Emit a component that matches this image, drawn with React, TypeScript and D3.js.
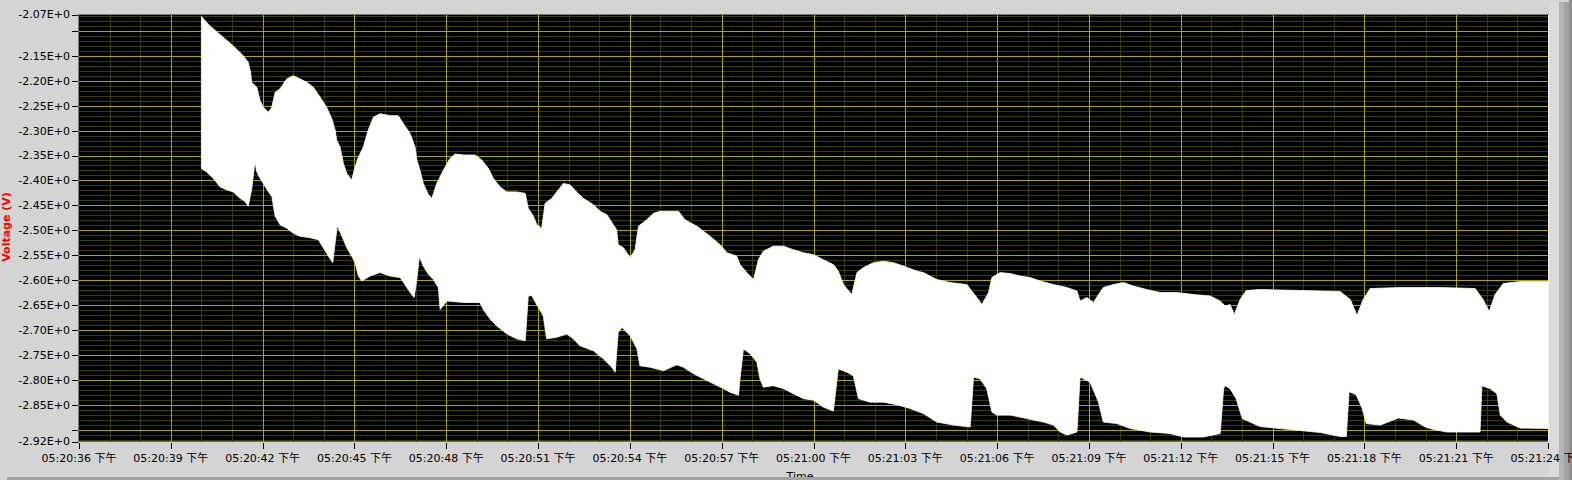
import React from "react";
import * as d3 from "d3";

// time is seconds after 05:20:00 PM, voltage in V
const upperT = [40.0, 40.28, 40.72, 41.04, 41.37, 41.53, 41.61, 41.64, 41.81, 41.92, 42.02, 42.19, 42.3, 42.41, 42.57, 42.79, 43.0, 43.22, 43.44, 43.66, 43.88, 44.09, 44.26, 44.37, 44.42, 44.53, 44.64, 44.75, 44.91, 45.02, 45.13, 45.29, 45.45, 45.62, 45.84, 46.16, 46.43, 46.6, 46.82, 46.98, 47.04, 47.14, 47.25, 47.42, 47.53, 47.69, 47.91, 48.12, 48.29, 48.56, 48.94, 49.16, 49.38, 49.54, 49.76, 49.98, 50.3, 50.58, 50.68, 50.85, 50.96, 51.12, 51.23, 51.45, 51.66, 51.83, 52.05, 52.26, 52.48, 52.81, 53.03, 53.25, 53.46, 53.57, 53.62, 53.79, 54.01, 54.17, 54.28, 54.55, 54.77, 54.99, 55.31, 55.59, 55.8, 56.19, 56.62, 56.95, 57.17, 57.49, 57.6, 57.82, 58.04, 58.2, 58.36, 58.69, 59.02, 59.34, 59.67, 60.0, 60.32, 60.65, 60.81, 60.98, 61.25, 61.42, 61.63, 61.96, 62.28, 62.61, 62.94, 63.38, 63.59, 64.03, 64.46, 65.01, 65.17, 65.34, 65.5, 65.72, 65.83, 66.1, 66.43, 66.75, 67.08, 67.41, 67.84, 68.28, 68.61, 68.71, 68.93, 69.15, 69.31, 69.47, 69.8, 70.13, 70.45, 70.89, 71.33, 71.87, 72.42, 72.96, 73.29, 73.45, 73.61, 73.75, 73.94, 74.14, 74.59, 75.9, 77.21, 77.54, 77.76, 77.96, 78.19, 79.17, 80.48, 81.62, 81.88, 82.08, 82.27, 82.54, 83.09, 84.0];
const upperV = [-2.071, -2.09, -2.113, -2.13, -2.15, -2.163, -2.183, -2.203, -2.213, -2.24, -2.253, -2.263, -2.253, -2.223, -2.216, -2.196, -2.19, -2.196, -2.203, -2.213, -2.233, -2.253, -2.276, -2.299, -2.319, -2.333, -2.366, -2.386, -2.399, -2.373, -2.353, -2.333, -2.299, -2.273, -2.266, -2.27, -2.27, -2.286, -2.306, -2.333, -2.359, -2.379, -2.406, -2.429, -2.436, -2.406, -2.379, -2.356, -2.347, -2.349, -2.349, -2.359, -2.376, -2.396, -2.413, -2.423, -2.423, -2.426, -2.456, -2.472, -2.489, -2.496, -2.446, -2.436, -2.419, -2.406, -2.409, -2.423, -2.436, -2.449, -2.462, -2.469, -2.489, -2.499, -2.529, -2.535, -2.555, -2.539, -2.492, -2.479, -2.466, -2.462, -2.462, -2.462, -2.479, -2.492, -2.512, -2.529, -2.545, -2.552, -2.569, -2.585, -2.599, -2.559, -2.542, -2.532, -2.532, -2.539, -2.545, -2.549, -2.559, -2.569, -2.582, -2.609, -2.629, -2.585, -2.575, -2.565, -2.562, -2.565, -2.572, -2.582, -2.585, -2.599, -2.605, -2.609, -2.622, -2.635, -2.649, -2.625, -2.595, -2.585, -2.587, -2.592, -2.595, -2.602, -2.609, -2.615, -2.622, -2.642, -2.635, -2.645, -2.629, -2.615, -2.609, -2.605, -2.612, -2.619, -2.625, -2.625, -2.629, -2.632, -2.642, -2.652, -2.649, -2.669, -2.639, -2.621, -2.619, -2.621, -2.623, -2.639, -2.671, -2.639, -2.617, -2.615, -2.615, -2.617, -2.639, -2.663, -2.629, -2.607, -2.603, -2.603];

const lowerT = [40.0, 40.17, 40.39, 40.61, 40.83, 41.04, 41.26, 41.42, 41.53, 41.64, 41.75, 41.81, 41.92, 42.02, 42.19, 42.3, 42.41, 42.57, 42.79, 43.0, 43.22, 43.55, 43.82, 43.98, 44.15, 44.29, 44.37, 44.44, 44.59, 44.75, 44.91, 45.02, 45.13, 45.24, 45.51, 45.84, 46.16, 46.49, 46.65, 46.82, 46.95, 47.04, 47.12, 47.25, 47.42, 47.58, 47.74, 47.8, 48.02, 48.56, 49.1, 49.21, 49.43, 49.65, 49.98, 50.3, 50.58, 50.68, 50.79, 51.01, 51.17, 51.28, 51.61, 51.94, 52.15, 52.37, 52.81, 53.13, 53.41, 53.52, 53.62, 53.74, 54.01, 54.23, 54.33, 54.66, 55.1, 55.53, 55.75, 56.08, 56.4, 56.73, 57.06, 57.27, 57.55, 57.6, 57.71, 57.93, 58.15, 58.25, 58.36, 58.69, 59.02, 59.34, 59.67, 60.0, 60.32, 60.65, 60.81, 61.09, 61.3, 61.47, 61.85, 62.28, 62.72, 63.16, 63.59, 64.03, 64.57, 65.12, 65.23, 65.44, 65.66, 65.83, 65.99, 66.43, 66.97, 67.51, 67.84, 68.06, 68.28, 68.61, 68.71, 69.04, 69.31, 69.47, 69.91, 70.35, 71.0, 71.65, 72.09, 72.74, 73.29, 73.4, 73.45, 73.61, 73.81, 74.01, 74.59, 75.58, 76.56, 77.21, 77.41, 77.5, 77.73, 77.93, 78.06, 78.52, 79.11, 79.61, 79.99, 80.26, 80.7, 81.78, 81.84, 82.11, 82.33, 82.44, 82.66, 83.09, 84.0];
const lowerV = [-2.376, -2.383, -2.396, -2.413, -2.419, -2.423, -2.436, -2.442, -2.452, -2.419, -2.363, -2.383, -2.396, -2.406, -2.423, -2.432, -2.472, -2.489, -2.496, -2.506, -2.512, -2.515, -2.519, -2.535, -2.552, -2.565, -2.525, -2.491, -2.512, -2.535, -2.552, -2.565, -2.592, -2.602, -2.592, -2.585, -2.592, -2.595, -2.609, -2.625, -2.635, -2.599, -2.553, -2.572, -2.589, -2.599, -2.615, -2.659, -2.642, -2.645, -2.645, -2.659, -2.678, -2.692, -2.708, -2.718, -2.722, -2.632, -2.631, -2.655, -2.672, -2.718, -2.715, -2.708, -2.718, -2.732, -2.742, -2.758, -2.775, -2.785, -2.705, -2.695, -2.712, -2.738, -2.772, -2.775, -2.782, -2.77, -2.775, -2.788, -2.798, -2.808, -2.818, -2.825, -2.831, -2.798, -2.738, -2.748, -2.765, -2.798, -2.815, -2.812, -2.818, -2.828, -2.838, -2.841, -2.855, -2.863, -2.778, -2.785, -2.792, -2.838, -2.845, -2.845, -2.85, -2.858, -2.868, -2.885, -2.891, -2.895, -2.795, -2.798, -2.818, -2.865, -2.871, -2.871, -2.878, -2.885, -2.891, -2.905, -2.911, -2.905, -2.795, -2.805, -2.845, -2.885, -2.888, -2.898, -2.905, -2.908, -2.915, -2.915, -2.908, -2.818, -2.812, -2.818, -2.838, -2.878, -2.894, -2.9, -2.906, -2.914, -2.914, -2.824, -2.83, -2.858, -2.888, -2.891, -2.877, -2.881, -2.895, -2.9, -2.905, -2.905, -2.812, -2.818, -2.828, -2.871, -2.885, -2.897, -2.898];

const timeTicks = [36, 39, 42, 45, 48, 51, 54, 57, 60, 63, 66, 69, 72, 75, 78, 81, 84];
const timeLabels = ["05:20:36 下午", "05:20:39 下午", "05:20:42 下午", "05:20:45 下午", "05:20:48 下午", "05:20:51 下午", "05:20:54 下午", "05:20:57 下午", "05:21:00 下午", "05:21:03 下午", "05:21:06 下午", "05:21:09 下午", "05:21:12 下午", "05:21:15 下午", "05:21:18 下午", "05:21:21 下午", "05:21:24 下午"];

const voltTicks = [-2.067, -2.1, -2.15, -2.2, -2.25, -2.3, -2.35, -2.4, -2.45, -2.5, -2.55, -2.6, -2.65, -2.7, -2.75, -2.8, -2.85, -2.9, -2.924];
const voltLabels = ["-2.07E+0", "", "-2.15E+0", "-2.20E+0", "-2.25E+0", "-2.30E+0", "-2.35E+0", "-2.40E+0", "-2.45E+0", "-2.50E+0", "-2.55E+0", "-2.60E+0", "-2.65E+0", "-2.70E+0", "-2.75E+0", "-2.80E+0", "-2.85E+0", "", "-2.92E+0"];

const W = 1572;
const H = 480;
const left = 79, right = 1548, top = 14.5, bottom = 441.5;
const font = "'DejaVu Sans', 'Noto Sans CJK SC', sans-serif";

export default function App() {
  const x = d3.scaleLinear().domain([36, 84]).range([left, right]);
  const y = d3.scaleLinear().domain([-2.924, -2.067]).range([bottom, top]);

  // grid: minor every 1 s / 0.01 V, major every 3 s / 0.05 V
  const minorX = d3.range(36, 85, 1).filter((s) => s % 3 !== 0);
  const majorX = d3.range(39, 84, 3);
  const minorY = d3.range(207, 293, 1).filter((k) => k % 5 !== 0).map((k) => -k / 100);
  const majorY = d3.range(210, 291, 5).map((k) => -k / 100);

  const upper = upperT.map((t, i) => [x(t), y(upperV[i])] as [number, number]);
  const lower = lowerT.map((t, i) => [x(t), y(lowerV[i])] as [number, number]);
  const band = d3.line()([...upper, ...lower.slice().reverse()]) + "Z";

  const px = (v: number) => Math.round(v) + 0.5;

  return (
    <svg width={W} height={H} style={{ position: "absolute", left: 0, top: 0, display: "block" }}>
      <defs>
        <clipPath id="plot">
          <rect x={left} y={top} width={right - left} height={bottom - top} />
        </clipPath>
      </defs>
      <rect width={W} height={H} fill="#d4d4d4" />

      {/* window frame */}
      <g shapeRendering="crispEdges">
        <rect x={1549} y={2} width={10} height={478} fill="#dadada" />
        <rect x={1559} y={2} width={5} height={478} fill="#b4b4b4" />
        <rect x={1564} y={2} width={5} height={478} fill="#a2a2a2" />
        <rect x={1569} y={0} width={3} height={480} fill="#8e8e8e" />
      </g>

      {/* plot area */}
      <rect x={left} y={top} width={right - left} height={bottom - top} fill="#000" />
      <g shapeRendering="crispEdges">
        {minorX.map((s) => (
          <line key={"mx" + s} x1={px(x(s))} x2={px(x(s))} y1={top} y2={bottom} stroke="#3c3c00" />
        ))}
        {minorY.map((v) => (
          <line key={"my" + v} x1={left} x2={right} y1={px(y(v))} y2={px(y(v))} stroke="#3c3c00" />
        ))}
        {majorX.map((s) => (
          <line key={"Mx" + s} x1={px(x(s))} x2={px(x(s))} y1={top} y2={bottom} stroke="#a8a800" />
        ))}
        {majorY.map((v) => (
          <line key={"My" + v} x1={left} x2={right} y1={px(y(v))} y2={px(y(v))} stroke="#a8a800" />
        ))}
      </g>
      <path d={band} fill="#ffffff" stroke="#ffffff" strokeWidth={0.8} clipPath="url(#plot)" />

      {/* sunken border */}
      <g shapeRendering="crispEdges">
        <line x1={left - 0.5} x2={left - 0.5} y1={top - 1} y2={bottom + 1} stroke="#7a7a7a" />
        <line x1={left - 1} x2={right + 1} y1={top - 0.5} y2={top - 0.5} stroke="#7a7a7a" />
        <line x1={right + 0.5} x2={right + 0.5} y1={top} y2={bottom + 1} stroke="#f4f4f4" />
      </g>

      {/* y axis */}
      <g fontFamily={font} fontSize={11} fill="#000">
        {voltTicks.map((v, i) => (
          <g key={"yt" + i}>
            <line x1={72} x2={78} y1={px(y(v))} y2={px(y(v))} stroke="#000" shapeRendering="crispEdges" />
            {voltLabels[i] && (
              <text x={70} y={y(v)} dy="0.36em" textAnchor="end">
                {voltLabels[i]}
              </text>
            )}
          </g>
        ))}
      </g>

      {/* x axis */}
      <g fontFamily={font} fontSize={11} fill="#000">
        {timeTicks.map((s, i) => (
          <g key={"xt" + s}>
            <line x1={px(x(s))} x2={px(x(s))} y1={bottom + 1} y2={bottom + 7} stroke="#000" shapeRendering="crispEdges" />
            <text x={x(s)} y={462} textAnchor="middle">
              {timeLabels[i]}
            </text>
          </g>
        ))}
      </g>

      <text x={800} y={480} fontFamily={font} fontSize={11} textAnchor="middle" fill="#000">
        Time
      </text>
      <text
        transform="translate(10, 227) rotate(-90)"
        fontFamily={font}
        fontSize={11}
        fontWeight="bold"
        textAnchor="middle"
        fill="#ff0000"
      >
        Voltage (V)
      </text>

      <rect x={7} y={477} width={1552} height={3} fill="#a3a3a3" shapeRendering="crispEdges" />
    </svg>
  );
}
